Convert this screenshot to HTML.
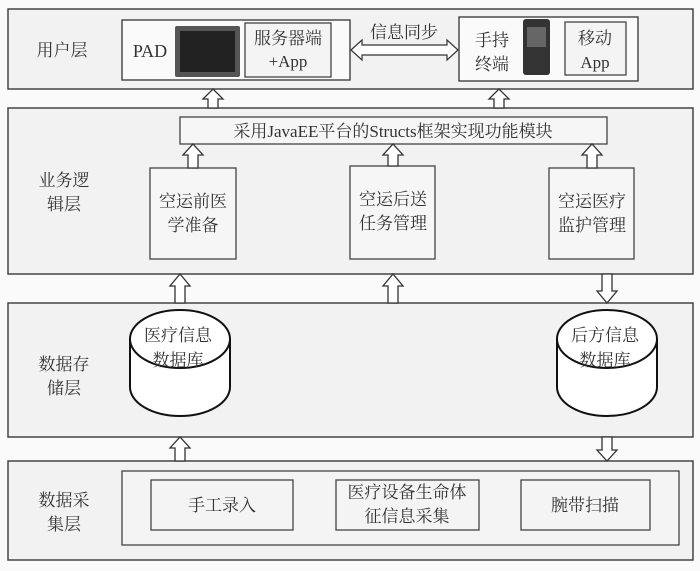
<!DOCTYPE html>
<html><head><meta charset="utf-8"><style>
html,body{margin:0;padding:0;background:#fff}
svg{display:block}
text{font-family:"Liberation Serif","Noto Serif CJK SC","Noto Sans CJK SC",serif;font-size:17px;fill:#333;text-anchor:middle}
.ar{fill:#fff;stroke:#333;stroke-width:1.3}
</style></head><body>
<svg width="700" height="571" viewBox="0 0 700 571" xmlns="http://www.w3.org/2000/svg">
<rect width="700" height="571" fill="#fafafa"/>
<g fill="#f2f2f2" stroke="#444" stroke-width="1.5">
<rect x="8" y="9" width="685" height="80"/>
<rect x="8" y="108" width="685" height="166"/>
<rect x="8" y="303" width="685" height="134"/>
<rect x="8" y="461" width="685" height="99"/>
</g>
<text x="62" y="56">用户层</text>
<text x="64" y="186">业务逻</text><text x="64" y="210">辑层</text>
<text x="64" y="370">数据存</text><text x="64" y="394">储层</text>
<text x="64" y="506">数据采</text><text x="64" y="530">集层</text>
<!-- user layer -->
<rect x="122" y="20" width="228" height="60" fill="#fafafa" stroke="#333" stroke-width="1.3"/>
<text x="150" y="57" style="font-size:18px">PAD</text>
<rect x="175" y="26" width="65" height="51" rx="2" fill="#555"/>
<rect x="180" y="31" width="55" height="41" fill="#222"/>
<rect x="245" y="23" width="86" height="54" fill="#f4f4f4" stroke="#444" stroke-width="1.3"/>
<text x="288" y="44">服务器端</text><text x="288" y="67">+App</text>
<path d="M351,50 L362,40 V45 H447 V40 L458,50 L447,60 V55 H362 V60 Z" fill="#fff" stroke="#333" stroke-width="1.2"/>
<text x="404" y="38">信息同步</text>
<rect x="459" y="17" width="179" height="64" fill="#fafafa" stroke="#333" stroke-width="1.3"/>
<text x="492" y="46">手持</text><text x="492" y="70">终端</text>
<rect x="523" y="19" width="27" height="56" rx="3" fill="#333"/>
<rect x="527" y="27" width="19" height="20" fill="#666"/>
<rect x="565" y="22" width="61" height="53" fill="#f4f4f4" stroke="#444" stroke-width="1.3"/>
<text x="595" y="44">移动</text><text x="595" y="68">App</text>
<path class="ar" d="M208,108 V99 H203 L213,89 L223,99 H218 V108 Z"/>
<path class="ar" d="M494,108 V99 H489 L499,89 L509,99 H504 V108 Z"/>
<!-- logic -->
<rect x="180" y="117" width="427" height="27" fill="#f6f6f6" stroke="#444" stroke-width="1.3"/>
<text x="393" y="137">采用JavaEE平台的Structs框架实现功能模块</text>
<g fill="#f6f6f6" stroke="#444" stroke-width="1.3">
<rect x="150" y="168" width="86" height="91"/>
<rect x="350" y="166" width="85" height="93"/>
<rect x="549" y="168" width="85" height="91"/>
</g>
<path class="ar" d="M188,168 V155 H183 L193,144 L203,155 H198 V168 Z"/>
<path class="ar" d="M388,166 V155 H383 L393,144 L403,155 H398 V166 Z"/>
<path class="ar" d="M587,168 V155 H582 L592,144 L602,155 H597 V168 Z"/>
<text x="193" y="207">空运前医</text><text x="193" y="231">学准备</text>
<text x="393" y="205">空运后送</text><text x="393" y="229">任务管理</text>
<text x="592" y="207">空运医疗</text><text x="592" y="231">监护管理</text>
<path class="ar" d="M175,303 V286 H170 L180,274 L190,286 H185 V303 Z"/>
<path class="ar" d="M388,303 V286 H383 L393,274 L403,286 H398 V303 Z"/>
<path class="ar" d="M602,274 V291 H597 L607,303 L617,291 H612 V274 Z"/>
<!-- storage -->
<g fill="#fff" stroke="#111" stroke-width="2">
<path d="M130,339 V387 A50,29 0 0 0 230,387 V339"/>
<ellipse cx="180" cy="339" rx="50" ry="29"/>
<path d="M557,339 V387 A50,29 0 0 0 657,387 V339"/>
<ellipse cx="607" cy="339" rx="50" ry="29"/>
</g>
<text x="178" y="341">医疗信息</text><text x="178" y="366">数据库</text>
<text x="605" y="341">后方信息</text><text x="605" y="366">数据库</text>
<path class="ar" d="M175,461 V448 H170 L180,437 L190,448 H185 V461 Z"/>
<path class="ar" d="M602,437 V450 H597 L607,461 L617,450 H612 V437 Z"/>
<!-- collect -->
<rect x="122" y="471" width="557" height="74" fill="#f4f4f4" stroke="#444" stroke-width="1.3"/>
<g fill="#f4f4f4" stroke="#444" stroke-width="1.3">
<rect x="151" y="480" width="142" height="50"/>
<rect x="336" y="480" width="143" height="50"/>
<rect x="521" y="480" width="129" height="50"/>
</g>
<text x="222" y="511">手工录入</text>
<text x="407" y="498">医疗设备生命体</text><text x="407" y="522">征信息采集</text>
<text x="585" y="511">腕带扫描</text>
</svg>
</body></html>
